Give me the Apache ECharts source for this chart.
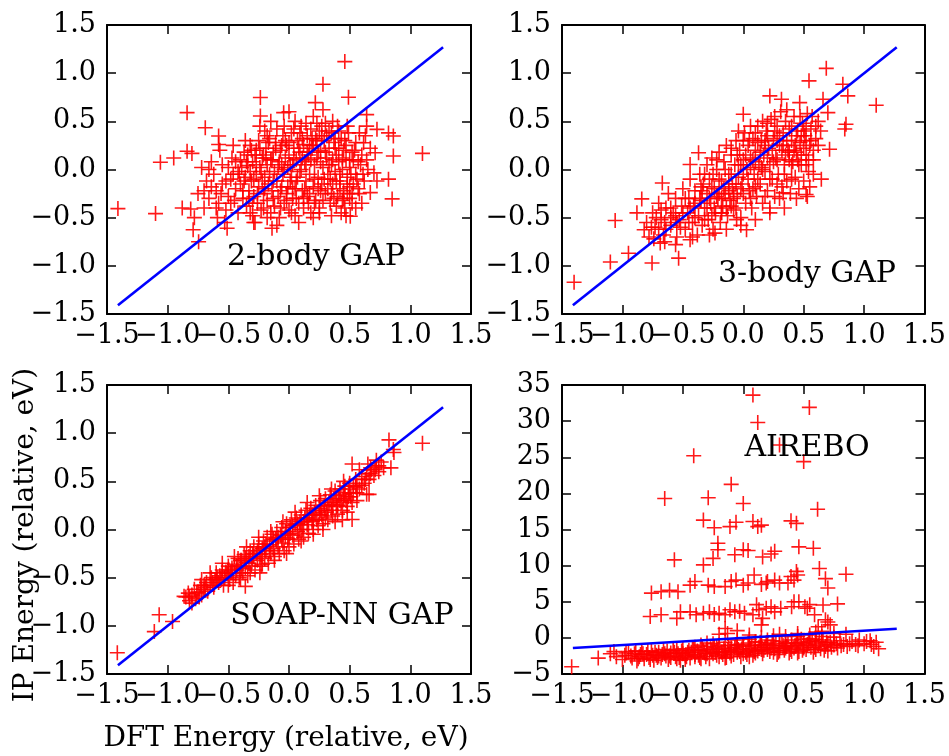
<!DOCTYPE html>
<html>
<head>
<meta charset="utf-8">
<script src="https://cdn.jsdelivr.net/npm/echarts@6/dist/echarts.min.js"></script>
<style>html,body{margin:0;padding:0;background:#fff}#c{width:949px;height:756px}</style>
</head>
<body>
<div id="c"></div>
<script>
// ---------- data (DFT energy, IP energy) ----------
var panelTitles = ['2-body GAP', '3-body GAP', 'SOAP-NN GAP', 'AIREBO'];
var xTickLabels = ['\u22121.5', '\u22121.0', '\u22120.5', '0.0', '0.5', '1.0', '1.5'];
var gapTickLabels = ['\u22121.5', '\u22121.0', '\u22120.5', '0.0', '0.5', '1.0', '1.5'];
var airTickLabels = ['\u22125', '0', '5', '10', '15', '20', '25', '30', '35'];
var fitLine = [[-1.41, -1.41], [1.27, 1.27]];

var twoBody = [
[0.46,1.12],[0.28,0.885],[0.49,0.75],[-0.236,0.747],[0.217,0.694],[-0.84,0.59],[-0.044,0.59],[-0.236,0.556],
[-0.69,0.434],[-0.58,0.347],[-0.58,0.26],[-0.84,0.19],[-0.80,0.167],[-0.95,0.12],[-1.06,0.076],[-1.41,-0.406],
[-1.10,-0.458],[-0.88,-0.40],[-0.81,-0.41],[1.10,0.167],[0.86,0.347],[0.82,0.38],[0.725,0.417],[0.64,0.45],
[0.64,0.57],[0.86,0.14],[0.82,-0.10],[0.85,-0.305],[0.70,-0.035],[0.67,-0.24],[0.505,-0.486],[0.20,-0.50],
[-0.14,-0.61],[-0.29,-0.55],[-0.51,-0.61],[-0.745,-0.75],[-0.79,-0.625],[-0.59,-0.50],[0.615,0.278],[0.71,0.174],[0.725,-0.12],
[-0.62,-0.05],[-0.60,-0.22],[-0.58,-0.35],[-0.55,0.05],[-0.55,-0.15],[-0.52,-0.42],[-0.50,-0.28],[-0.50,0.02],
[-0.48,-0.10],[-0.47,0.12],[-0.45,-0.32],[-0.44,-0.20],[-0.42,-0.02],[-0.42,-0.45],[-0.40,0.10],[-0.40,-0.15],
[-0.38,-0.30],[-0.37,0.18],[-0.36,-0.08],[-0.35,-0.38],[-0.34,0.04],[-0.33,-0.22],[-0.32,0.25],[-0.31,-0.12],
[-0.30,-0.48],[-0.30,0.08],[-0.29,-0.28],[-0.28,0.15],[-0.27,-0.05],[-0.26,-0.35],[-0.25,0.30],[-0.25,-0.18],
[-0.24,0.02],[-0.23,-0.42],[-0.22,0.12],[-0.21,-0.25],[-0.20,0.40],[-0.20,-0.08],[-0.19,0.22],[-0.18,-0.32],
[-0.18,0.05],[-0.17,-0.15],[-0.16,0.32],[-0.15,-0.45],[-0.15,0.10],[-0.14,-0.22],[-0.13,0.18],[-0.12,-0.02],
[-0.12,-0.38],[-0.11,0.28],[-0.10,-0.12],[-0.10,0.42],[-0.09,-0.28],[-0.08,0.08],[-0.08,-0.50],[-0.07,0.20],
[-0.06,-0.18],[-0.05,0.35],[-0.05,-0.05],[-0.04,-0.35],[-0.03,0.12],[-0.02,-0.25],[-0.02,0.25],[-0.01,0.02],
[0.00,-0.42],[0.00,0.15],[0.01,-0.12],[0.02,0.38],[0.03,-0.30],[0.03,0.05],[0.04,0.22],[0.05,-0.20],
[0.05,-0.48],[0.06,0.10],[0.07,0.30],[0.07,-0.08],[0.08,-0.35],[0.09,0.18],[0.10,0.00],[0.10,0.45],
[0.11,-0.22],[0.12,0.26],[0.12,-0.40],[0.13,0.08],[0.14,-0.12],[0.15,0.35],[0.15,-0.28],[0.16,0.15],
[0.17,-0.05],[0.18,0.42],[0.18,-0.45],[0.19,0.22],[0.20,-0.18],[0.21,0.05],[0.22,0.32],[0.22,-0.32],
[0.23,0.12],[0.24,-0.08],[0.25,0.40],[0.25,-0.40],[0.26,0.20],[0.27,-0.15],[0.28,0.02],[0.29,0.30],
[0.30,-0.25],[0.30,0.48],[0.31,0.12],[0.32,-0.05],[0.33,0.22],[0.34,-0.35],[0.35,0.38],[0.35,0.05],
[0.36,-0.15],[0.37,0.28],[0.38,-0.02],[0.39,0.15],[0.40,-0.28],[0.40,0.45],[0.41,0.08],[0.42,-0.12],
[0.43,0.32],[0.44,0.00],[0.45,-0.22],[0.45,0.20],[0.46,-0.40],[0.47,0.10],[0.48,-0.08],[0.49,0.38],
[0.50,-0.30],[0.50,0.02],[0.52,0.18],[0.53,-0.15],[0.55,0.28],[0.55,-0.05],[0.57,0.08],[0.58,-0.25],
[0.60,0.15],[0.62,-0.12],[0.63,0.35],[0.65,0.00],[0.67,0.22],[-0.66,-0.30],[-0.68,-0.12],[-0.70,-0.40],
[-0.72,0.02],[-0.75,-0.25],[-0.78,-0.50],[-0.64,0.08],[-0.57,0.20],[-0.53,-0.55],[-0.46,0.25],[-0.36,0.30],
[-0.28,-0.55],[-0.10,-0.58],[0.08,-0.55],[0.35,-0.48],[0.55,-0.40],[0.60,-0.35],[-0.24,0.45],[-0.15,0.50],
[0.05,0.50],[0.20,0.55],[0.28,0.62],[0.00,0.60],
[-0.32,-0.02],[-0.27,0.20],[-0.22,-0.12],[-0.17,0.28],[-0.13,-0.30],[-0.06,0.05],[-0.03,0.30],[0.02,-0.08],
[0.06,-0.30],[0.09,0.38],[0.13,-0.20],[0.17,0.25],[0.21,-0.10],[0.24,0.18],[0.28,-0.32],[0.31,0.35],
[0.34,-0.10],[0.38,0.22],[0.42,-0.20],[0.46,0.30],[0.50,-0.18],[0.53,0.10],[0.57,-0.20],[0.44,-0.32],
[0.48,-0.25],[0.52,-0.25],[0.39,-0.38],[-0.44,0.08],[-0.38,-0.22],[-0.34,0.15],[-0.30,-0.35],[-0.21,-0.40],
[-0.19,0.12],[-0.07,-0.40],[-0.01,-0.18],[0.04,0.42],[0.11,0.12],[0.16,-0.35],[0.19,0.32],[0.26,-0.22],
[0.33,0.05],[0.37,-0.30],[0.41,0.40],[0.27,0.45],[0.14,0.48],[-0.04,0.45],
[-0.41,-0.05],[-0.39,0.02],[-0.37,-0.12],[-0.35,0.08],[-0.33,-0.30],[-0.31,0.20],[-0.29,-0.10],[-0.27,0.05],
[-0.26,-0.25],[-0.24,0.22],[-0.23,-0.02],[-0.21,0.15],[-0.20,-0.20],[-0.18,0.35],[-0.16,-0.05],[-0.14,0.10],
[-0.13,-0.12],[-0.11,0.22],[-0.09,0.02],[-0.07,-0.22],[-0.06,0.25],[-0.04,0.00],[-0.02,-0.32],[0.00,0.28],
[0.01,0.05],[0.03,-0.20],[0.04,0.12],[0.06,-0.12],[0.08,0.22],[0.09,-0.02],[0.11,0.32],[0.12,-0.30],
[0.14,0.05],[0.15,0.18],[0.17,-0.25],[0.18,0.10],[0.20,0.25],[0.21,-0.35],[0.23,0.30],[0.24,-0.20],
[0.26,0.08],[0.27,0.35],[0.29,-0.10],[0.30,0.18],[0.32,-0.20],[0.33,0.40],[0.35,-0.25],[0.36,0.10],
[0.38,0.32],[0.39,-0.12],[0.41,0.22],[0.42,-0.05],[0.44,0.12],[0.45,-0.30],[0.47,0.25],[0.48,-0.15],
[0.50,0.10],[0.51,-0.05],[0.52,-0.35],[0.54,0.20],[0.56,-0.10],[0.59,0.05],[-0.48,-0.35],[-0.46,-0.05],
[-0.52,-0.12],[-0.56,-0.25],[-0.60,-0.40],[-0.64,-0.18],[-0.70,-0.22],[-0.66,0.00],[0.61,-0.05],[0.64,0.10],
[0.58,0.38],[0.48,0.45],[0.36,0.50],[0.23,0.48],[-0.32,-0.45],[-0.18,-0.50],[0.02,-0.45],[0.25,-0.45],
[0.43,-0.45],[0.47,-0.48]
];

var threeBody = [
[-1.40,-1.17],[-1.10,-0.96],[-0.95,-0.87],[-0.755,-0.97],[-0.535,-0.92],[-1.06,-0.53],[-0.84,-0.305],[0.687,1.05],
[0.544,0.92],[0.824,0.885],[0.865,0.764],[1.10,0.667],[0.22,0.764],[0.316,0.73],[0.0,0.573],[0.66,0.73],
[0.70,0.59],[0.85,0.47],[0.84,0.42],[0.714,0.21],[0.646,-0.10],[0.52,-0.26],[0.33,-0.243],[0.22,-0.40],
[0.027,-0.625],[-0.234,-0.66],[-0.44,-0.73],[-0.687,-0.764],[-0.37,0.174],[-0.44,0.052],[-0.67,-0.14],[-0.88,-0.45],
[-0.82,-0.625],[-0.055,-0.52],[-0.18,-0.45],[0.467,0.694],
[-0.80,-0.55],[-0.78,-0.70],[-0.75,-0.45],[-0.73,-0.60],[-0.70,-0.35],[-0.68,-0.52],[-0.66,-0.68],[-0.64,-0.40],
[-0.62,-0.25],[-0.60,-0.58],[-0.58,-0.45],[-0.56,-0.30],[-0.55,-0.70],[-0.53,-0.52],[-0.51,-0.38],[-0.50,-0.20],
[-0.48,-0.62],[-0.46,-0.45],[-0.45,-0.30],[-0.44,-0.10],[-0.42,-0.55],[-0.41,-0.38],[-0.40,-0.22],[-0.38,-0.68],
[-0.37,-0.48],[-0.36,-0.05],[-0.35,-0.32],[-0.34,-0.58],[-0.33,-0.15],[-0.32,-0.40],[-0.30,-0.25],[-0.30,0.05],
[-0.29,-0.52],[-0.28,-0.10],[-0.27,-0.35],[-0.26,0.12],[-0.25,-0.62],[-0.24,-0.20],[-0.23,-0.45],[-0.22,0.00],
[-0.21,-0.30],[-0.20,0.18],[-0.19,-0.55],[-0.18,-0.12],[-0.17,-0.38],[-0.16,0.08],[-0.15,-0.25],[-0.14,0.25],
[-0.13,-0.48],[-0.12,-0.05],[-0.11,-0.32],[-0.10,0.15],[-0.09,-0.18],[-0.08,-0.42],[-0.07,0.05],[-0.06,0.30],
[-0.05,-0.28],[-0.04,-0.08],[-0.03,0.20],[-0.02,-0.50],[-0.01,-0.15],[0.00,0.10],[0.01,0.38],[0.02,-0.35],
[0.03,0.00],[0.04,0.25],[0.05,-0.22],[0.06,0.12],[0.07,-0.40],[0.08,0.32],[0.09,-0.05],[0.10,0.20],
[0.11,-0.28],[0.12,0.45],[0.13,0.05],[0.14,-0.15],[0.15,0.30],[0.16,-0.35],[0.17,0.15],[0.18,-0.02],
[0.19,0.40],[0.20,-0.22],[0.21,0.22],[0.22,0.05],[0.23,0.52],[0.24,-0.10],[0.25,0.32],[0.26,-0.28],
[0.27,0.12],[0.28,0.45],[0.29,-0.05],[0.30,0.25],[0.31,0.60],[0.32,-0.18],[0.33,0.38],[0.34,0.05],
[0.35,0.50],[0.36,-0.12],[0.37,0.20],[0.38,0.42],[0.39,-0.25],[0.40,0.30],[0.41,0.08],[0.42,0.55],
[0.43,-0.08],[0.44,0.18],[0.45,0.40],[0.46,-0.20],[0.47,0.28],[0.48,0.05],[0.49,0.48],[0.50,-0.12],
[0.51,0.35],[0.52,0.15],[0.53,0.58],[0.54,-0.02],[0.55,0.25],[0.56,0.42],[0.58,0.10],[0.60,0.32],
[0.62,0.50],[0.55,-0.18],[0.50,0.22],[0.45,0.10],[0.40,-0.10],[0.35,0.15],[0.30,-0.30],[0.25,0.08],
[0.20,0.35],[0.15,0.02],[0.10,-0.18],[0.05,0.30],[0.00,-0.25],[-0.05,0.15],[-0.10,-0.38],[-0.15,0.00],
[-0.20,-0.25],[-0.25,-0.05],[-0.30,-0.40],[-0.35,-0.18],[-0.40,-0.50],[-0.45,-0.55],[-0.50,-0.45],[-0.55,-0.55],
[-0.60,-0.40],[-0.65,-0.55],[-0.72,-0.50],[-0.76,-0.60],[0.12,0.28],[0.18,0.25],[0.08,0.10],[-0.02,0.05],
[-0.08,-0.25],[-0.12,-0.15],[0.28,0.30],[0.33,0.25],[0.38,0.10],[0.43,0.25],[0.48,0.35],[0.52,0.45],
[0.57,0.55],[0.47,0.55],[0.36,0.62],[0.26,0.55],[0.16,0.50],[0.06,0.45],[-0.04,0.40],[0.58,-0.05],
[0.53,-0.28],[0.44,-0.30],[0.34,-0.40],[0.22,-0.45],[0.10,-0.52],[-0.02,-0.58],[-0.14,-0.62],[-0.28,-0.68],
[-0.42,-0.70],[-0.56,-0.78],[-0.65,-0.75],
[-0.28,-0.30],[-0.26,-0.18],[-0.24,-0.40],[-0.22,-0.28],[-0.20,-0.10],[-0.18,-0.30],[-0.16,-0.20],[-0.14,-0.40],
[-0.12,-0.22],[-0.10,-0.05],[-0.08,-0.30],[-0.06,-0.15],[-0.04,0.05],[-0.02,-0.20],[0.00,-0.05],[0.02,0.15],
[0.04,-0.10],[0.06,0.02],[0.08,-0.20],[0.10,0.08],[0.12,-0.10],[0.14,0.18],[0.16,0.00],[0.18,0.30],
[0.20,0.12],[0.22,-0.10],[0.24,0.20],[0.26,0.40],[0.28,0.10],[0.30,0.35],[0.32,0.20],[0.34,-0.05],
[0.36,0.30],[0.38,0.18],[0.40,0.45],[0.42,0.20],[0.44,0.35],[0.46,0.05],[0.48,0.15],[0.50,0.40],
[0.52,0.30],[0.54,0.10],[0.56,0.30],[0.58,0.20],[0.60,0.45],[0.62,0.25],[0.64,0.40],[-0.32,-0.52],
[-0.36,-0.30],[-0.40,-0.35],[-0.44,-0.40],[-0.48,-0.30],[-0.52,-0.60],[-0.56,-0.48],[-0.60,-0.50],[-0.64,-0.62],
[-0.68,-0.42],[-0.70,-0.62],[-0.74,-0.72],[-0.34,-0.22],[-0.26,-0.48],[-0.18,-0.45],[-0.06,-0.40],[0.06,-0.30],
[0.18,-0.28],[0.28,-0.15],[0.40,0.05],[0.52,0.05],[0.10,0.38],[0.00,0.30],[-0.10,0.22],[0.20,0.48],
[-0.22,0.10],[-0.32,-0.05]
];

var soapNN = [
[-1.415,-1.28],[-1.11,-1.06],[-1.07,-0.885],[-0.96,-0.955],[1.10,0.896],[0.824,0.93],[0.865,0.80],[0.84,0.64],
[0.673,0.64],[0.52,0.104],[0.66,0.365],[0.52,0.68],[-0.865,-0.694],[-0.80,-0.764],[0.86,0.83],[0.64,0.365],
[-0.36,-0.59],[-0.24,-0.45],
[-0.85,-0.70],[-0.83,-0.66],[-0.82,-0.74],[-0.80,-0.68],[-0.78,-0.62],[-0.77,-0.72],[-0.75,-0.65],[-0.73,-0.58],
[-0.72,-0.68],[-0.70,-0.62],[-0.68,-0.55],[-0.67,-0.64],[-0.65,-0.58],[-0.64,-0.50],[-0.62,-0.60],[-0.61,-0.52],
[-0.60,-0.45],[-0.58,-0.55],[-0.57,-0.48],[-0.55,-0.42],[-0.54,-0.58],[-0.53,-0.50],[-0.52,-0.44],[-0.50,-0.38],
[-0.49,-0.52],[-0.48,-0.45],[-0.47,-0.40],[-0.46,-0.55],[-0.45,-0.36],[-0.44,-0.48],[-0.43,-0.42],[-0.42,-0.30],
[-0.41,-0.50],[-0.40,-0.38],[-0.39,-0.32],[-0.38,-0.45],[-0.37,-0.26],[-0.36,-0.40],[-0.35,-0.34],[-0.34,-0.48],
[-0.33,-0.28],[-0.32,-0.22],[-0.31,-0.38],[-0.30,-0.30],[-0.29,-0.18],[-0.28,-0.42],[-0.27,-0.25],[-0.26,-0.32],
[-0.25,-0.15],[-0.24,-0.28],[-0.23,-0.38],[-0.22,-0.20],[-0.21,-0.12],[-0.20,-0.30],[-0.19,-0.22],[-0.18,-0.08],
[-0.17,-0.35],[-0.16,-0.16],[-0.15,-0.25],[-0.14,-0.05],[-0.13,-0.20],[-0.12,-0.28],[-0.11,-0.10],[-0.10,-0.02],
[-0.09,-0.18],[-0.08,-0.25],[-0.07,-0.06],[-0.06,0.02],[-0.05,-0.14],[-0.04,-0.22],[-0.03,-0.02],[-0.02,0.06],
[-0.01,-0.10],[0.00,-0.18],[0.01,0.02],[0.02,0.10],[0.03,-0.06],[0.04,-0.15],[0.05,0.05],[0.06,0.12],
[0.07,-0.02],[0.08,-0.10],[0.09,0.08],[0.10,0.15],[0.11,0.00],[0.12,-0.08],[0.13,0.12],[0.14,0.20],
[0.15,0.05],[0.16,-0.04],[0.17,0.15],[0.18,0.22],[0.19,0.08],[0.20,0.00],[0.21,0.18],[0.22,0.25],
[0.23,0.10],[0.24,0.04],[0.25,0.22],[0.26,0.30],[0.27,0.15],[0.28,0.06],[0.29,0.25],[0.30,0.32],
[0.31,0.18],[0.32,0.10],[0.33,0.28],[0.34,0.36],[0.35,0.20],[0.36,0.14],[0.37,0.32],[0.38,0.40],
[0.39,0.24],[0.40,0.16],[0.41,0.35],[0.42,0.42],[0.43,0.28],[0.44,0.20],[0.45,0.38],[0.46,0.45],
[0.47,0.30],[0.48,0.24],[0.49,0.42],[0.50,0.48],[0.51,0.34],[0.52,0.28],[0.53,0.45],[0.55,0.52],
[0.56,0.38],[0.58,0.42],[0.60,0.55],[0.62,0.48],[0.64,0.58],[0.66,0.52],[0.68,0.62],[0.70,0.56],
[0.72,0.66],[0.74,0.60],[0.76,0.70],[0.78,0.64],[0.72,0.72],[0.65,0.68],[0.58,0.62],[0.45,0.50],
[0.35,0.42],[0.25,0.35],[0.15,0.28],[0.05,0.18],[-0.05,0.08],[-0.15,-0.02],[-0.25,-0.08],[-0.35,-0.18],
[-0.45,-0.28],[-0.55,-0.35],[-0.65,-0.45],[-0.72,-0.52],[0.40,0.25],[0.30,0.12],[0.20,0.10],[0.10,0.05],
[0.00,-0.05],[-0.10,-0.12],[-0.20,-0.18],[-0.30,-0.25],[-0.40,-0.32],[-0.50,-0.42],[-0.60,-0.52],[-0.70,-0.58],
[0.15,0.12],[0.25,0.15],[0.35,0.28],[0.45,0.32],[0.50,0.38],[0.55,0.44],
[-0.82,-0.70],[-0.76,-0.66],[-0.74,-0.70],[-0.69,-0.60],[-0.63,-0.55],[-0.59,-0.50],[-0.56,-0.52],[-0.51,-0.46],
[-0.47,-0.45],[-0.43,-0.38],[-0.39,-0.40],[-0.36,-0.30],[-0.33,-0.35],[-0.29,-0.28],[-0.26,-0.22],[-0.23,-0.26],
[-0.19,-0.15],[-0.16,-0.22],[-0.13,-0.10],[-0.09,-0.08],[-0.06,-0.10],[-0.03,-0.08],[0.01,-0.04],[0.03,0.04],
[0.07,0.06],[0.09,0.00],[0.12,0.08],[0.16,0.10],[0.19,0.15],[0.22,0.16],[0.26,0.20],[0.29,0.20],
[0.32,0.24],[0.36,0.26],[0.39,0.32],[0.42,0.30],[0.46,0.36],[0.49,0.34],[0.53,0.38],[0.56,0.46],
[0.60,0.46],[0.63,0.52],[0.67,0.58],[0.71,0.62],[0.74,0.66],[0.28,0.00],[0.38,0.08],[0.48,0.18],
[0.20,-0.05],[0.10,-0.12],[-0.02,-0.25],[-0.12,-0.32],[-0.22,-0.36],[-0.32,-0.45],[-0.40,-0.52],[-0.50,-0.58],
[0.56,0.30],[0.44,0.10]
];

var airebo = [
[0.08,33.6],[0.547,31.9],[0.12,29.8],[0.30,26.7],[0.50,24.4],[-0.41,25.2],[-0.10,21.25],[-0.65,19.3],
[-0.29,19.4],[0.0,18.6],[0.615,17.8],[-0.33,16.3],[-0.24,15.25],[-0.11,15.4],[-0.06,16.0],[0.08,16.1],
[0.12,15.4],[0.15,15.6],[0.395,16.2],[0.44,15.85],[-0.21,13.1],[-0.57,10.8],[-0.33,10.1],[-0.25,11.0],
[-0.21,12.2],[-0.07,11.5],[0.0,12.2],[0.04,12.1],[0.16,11.2],[0.23,11.6],[0.26,12.0],[0.46,12.6],
[0.58,12.4],[0.85,8.8],[0.63,9.6],[0.68,8.2],[0.70,6.9],[0.66,4.55],[0.78,4.7],[0.44,9.2],
[0.395,8.5],[-0.76,6.2],[-0.68,6.4],[-0.61,6.6],[-0.54,6.4],[-0.44,7.3],[-0.40,7.8],[-0.29,7.3],
[-0.24,7.1],[-0.15,7.1],[-0.10,7.8],[-0.06,8.0],[0.0,7.3],[0.04,7.6],[0.09,8.7],[0.15,7.4],
[0.20,7.8],[0.26,8.0],[0.30,7.6],[0.37,7.6],[0.42,8.0],[0.45,8.7],[0.19,7.6],[-0.77,2.95],
[-0.68,3.2],[-0.55,2.7],[-0.52,3.6],[-0.44,3.6],[-0.39,3.2],[-0.33,3.4],[-0.28,3.6],[-0.24,3.25],
[-0.20,3.4],[-0.15,3.2],[-0.11,3.9],[-0.07,3.6],[-0.03,3.7],[0.01,3.4],[0.08,3.2],[0.11,4.6],
[0.13,3.9],[0.16,2.7],[0.19,4.1],[0.23,4.3],[0.26,3.6],[0.31,4.1],[0.40,4.3],[0.42,5.0],
[0.46,5.0],[0.51,4.3],[0.53,4.1],[0.55,4.6],[0.59,3.2],[0.62,1.55],[0.70,2.2],[-0.15,1.3],
[-0.13,0.6],[0.15,1.8],[-1.42,-4.0],[-1.20,-2.8],[-1.07,-1.9],
[-1.10,-2.2],[-1.05,-2.6],[-1.00,-3.0],[-0.98,-2.4],[-0.95,-1.9],[-0.92,-2.8],[-0.90,-2.2],[-0.88,-3.2],
[-0.86,-2.6],[-0.84,-1.9],[-0.82,-2.9],[-0.80,-2.3],[-0.78,-2.7],[-0.76,-1.8],[-0.74,-3.1],[-0.72,-2.4],
[-0.70,-2.0],[-0.68,-2.8],[-0.66,-1.6],[-0.64,-2.5],[-0.62,-3.0],[-0.60,-2.1],[-0.58,-1.7],[-0.56,-2.6],
[-0.54,-2.2],[-0.52,-3.1],[-0.50,-1.5],[-0.48,-2.4],[-0.46,-2.0],[-0.44,-2.8],[-0.42,-1.4],[-0.40,-2.3],
[-0.38,-1.8],[-0.36,-2.7],[-0.34,-1.2],[-0.32,-2.1],[-0.30,-1.6],[-0.28,-2.9],[-0.26,-1.9],[-0.24,-1.3],
[-0.22,-2.4],[-0.20,-1.0],[-0.18,-2.0],[-0.16,-1.5],[-0.14,-2.7],[-0.12,-1.1],[-0.10,-1.8],[-0.08,-2.3],
[-0.06,-0.9],[-0.04,-1.6],[-0.02,-2.6],[0.00,-1.2],[0.02,-2.0],[0.04,-0.7],[0.06,-1.5],[0.08,-2.4],
[0.10,-1.0],[0.12,-1.8],[0.14,-0.6],[0.16,-2.2],[0.18,-1.3],[0.20,-0.9],[0.22,-1.9],[0.24,-0.4],
[0.26,-1.5],[0.28,-2.3],[0.30,-1.0],[0.32,-0.5],[0.34,-1.7],[0.36,-1.2],[0.38,-2.1],[0.40,-0.3],
[0.42,-1.4],[0.44,-0.8],[0.46,-1.9],[0.48,-0.2],[0.50,-1.1],[0.52,-1.6],[0.54,-0.5],[0.56,-1.3],
[0.58,-2.0],[0.60,-0.7],[0.62,-1.0],[0.64,-1.5],[0.66,-0.3],[0.68,-1.2],[0.70,-1.8],[0.72,-0.6],
[0.75,-1.0],[0.78,-1.4],[0.80,-0.4],[0.83,-0.9],[0.86,-1.2],[0.90,-0.5],[0.93,-0.9],[0.96,-0.3],
[1.00,-0.8],[1.05,-0.4],[1.08,-1.2],[1.10,-0.6],[1.12,-1.5],[-0.70,-2.5],[-0.60,-2.7],[-0.50,-2.2],
[-0.40,-2.6],[-0.30,-2.2],[-0.20,-2.6],[-0.10,-2.5],[0.00,-2.2],[0.10,-2.1],[0.20,-1.6],[0.30,-1.8],
[0.40,-1.9],[0.50,-1.4],[0.60,-1.6],[-0.35,-1.0],[-0.25,-0.8],[-0.15,-0.6],[-0.05,-0.3],[0.05,-0.2],
[0.15,0.1],[0.25,0.3],[0.35,0.2],[0.45,0.6],[0.55,0.4],[0.65,0.9],[0.75,0.6],[0.85,0.5],
[0.45,-1.0],[0.35,-0.7],[0.25,-1.1],[0.15,-1.6],[0.05,-1.7],[-0.05,-2.0],[-0.15,-1.9],[-0.25,-2.2],
[-0.45,-1.7],[-0.55,-2.9],[-0.65,-2.2],[-0.75,-2.4],[-0.85,-2.3],[-0.10,-1.4],[0.00,-0.9],[0.10,-0.5],
[0.20,-0.3],[0.30,-1.4],[0.40,-1.1],[0.50,-0.7],[0.60,-0.2],[0.70,-0.9],[-0.05,1.0],[0.60,0.8],
[0.68,2.5],[0.72,1.8],
[-0.97,-2.1],[-0.93,-2.5],[-0.89,-1.8],[-0.87,-2.9],[-0.83,-2.2],[-0.79,-1.9],[-0.77,-3.0],[-0.73,-2.0],
[-0.71,-2.7],[-0.67,-2.3],[-0.63,-1.8],[-0.61,-2.5],[-0.57,-2.0],[-0.53,-2.7],[-0.51,-1.8],[-0.47,-2.6],
[-0.43,-2.0],[-0.41,-1.6],[-0.37,-2.4],[-0.33,-1.7],[-0.31,-2.6],[-0.27,-1.5],[-0.23,-2.0],[-0.21,-1.6],
[-0.17,-2.3],[-0.13,-1.6],[-0.11,-2.1],[-0.07,-1.3],[-0.03,-1.9],[-0.01,-1.5],[0.03,-2.3],[0.07,-1.1],
[0.09,-1.9],[0.13,-1.3],[0.17,-1.7],[0.19,-0.7],[0.23,-1.4],[0.27,-0.8],[0.29,-2.0],[0.33,-1.1],
[0.37,-0.7],[0.39,-1.6],[0.43,-1.1],[0.47,-0.6],[0.49,-1.7],[0.53,-0.9],[0.57,-0.4],[0.59,-1.3],
[0.63,-0.5],[0.67,-1.7],[0.69,-0.6],[0.73,-1.3],[0.77,-0.8],[0.81,-1.1],[0.88,-0.8],[0.95,-1.1],
[1.02,-0.5],[1.06,-0.9],[0.45,-2.1],[0.25,-2.0],[0.05,-2.6],[-0.15,-2.8],[-0.35,-2.9],[-0.48,-3.0],
[0.35,-1.4],[0.15,-1.0],[-0.05,-1.0],[-0.22,-1.2],[-0.40,-1.3],[-0.55,-1.6],[0.55,-0.1],[0.65,0.2],
[0.75,0.1],[0.45,0.2],[0.30,0.5],[-0.30,-0.7],[0.05,0.4],[-0.20,0.5]
];

// ---------- chart ----------
var FONT = '"DejaVu Serif", serif';
var plusPath = 'path://M-0.8,-7.5L0.8,-7.5L0.8,-0.8L7.5,-0.8L7.5,0.8L0.8,0.8L0.8,7.5L-0.8,7.5L-0.8,0.8L-7.5,0.8L-7.5,-0.8L-0.8,-0.8Z';
var grids = [
  {left: 107, top: 25, width: 364, height: 289},
  {left: 562, top: 25, width: 364, height: 289},
  {left: 107, top: 385, width: 364, height: 289},
  {left: 562, top: 385, width: 364, height: 289}
];
// parity: 0 -> labels at even tick indices, 1 -> odd indices (split over two axes so neighbouring labels may overlap like the original)
function lookup(labels, min, step, parity) {
  return function (v) {
    var i = Math.round((v - min) / step);
    if (parity !== undefined && i % 2 !== parity) return '';
    return labels[i] !== undefined ? labels[i] : '';
  };
}
var xAxes = [], yAxes = [], series = [];
var panelData = [twoBody, threeBody, soapNN, airebo];
for (var g = 0; g < 4; g++) {
  var isAir = g === 3;
  var axLine = {show: true, onZero: false, lineStyle: {color: '#000', width: 2}};
  var tick = {show: true, inside: true, length: 9, lineStyle: {color: '#000', width: 1.5}};
  var xLab = {show: true, margin: 8, color: '#000', fontFamily: FONT, fontSize: 27, showMinLabel: true, showMaxLabel: true, hideOverlap: false};
  xAxes.push({type: 'value', gridIndex: g, position: 'bottom', min: -1.5, max: 1.5, interval: 0.5,
    axisLine: axLine, axisTick: tick, splitLine: {show: false},
    axisLabel: Object.assign({}, xLab, {formatter: lookup(xTickLabels, -1.5, 0.5, 0)})});
  xAxes.push({type: 'value', gridIndex: g, position: 'bottom', min: -1.5, max: 1.5, interval: 0.5,
    axisLine: {show: false, onZero: false}, axisTick: {show: false}, splitLine: {show: false},
    axisLabel: Object.assign({}, xLab, {formatter: lookup(xTickLabels, -1.5, 0.5, 1)})});
  xAxes.push({type: 'value', gridIndex: g, position: 'top', min: -1.5, max: 1.5, interval: 0.5,
    axisLine: axLine, axisTick: tick, splitLine: {show: false}, axisLabel: {show: false}});
  var ymin = isAir ? -5 : -1.5, ymax = isAir ? 35 : 1.5, yint = isAir ? 5 : 0.5;
  var ylabels = isAir ? airTickLabels : gapTickLabels;
  yAxes.push({type: 'value', gridIndex: g, position: 'left', min: ymin, max: ymax, interval: yint,
    axisLine: axLine, axisTick: tick, splitLine: {show: false},
    axisLabel: {show: true, margin: 11, color: '#000', fontFamily: FONT, fontSize: 27, showMinLabel: true, showMaxLabel: true,
      formatter: lookup(ylabels, ymin, yint), hideOverlap: false}});
  yAxes.push({type: 'value', gridIndex: g, position: 'right', min: ymin, max: ymax, interval: yint,
    axisLine: axLine, axisTick: tick, splitLine: {show: false}, axisLabel: {show: false}});
  series.push({type: 'scatter', xAxisIndex: 3 * g, yAxisIndex: 2 * g, data: panelData[g],
    symbol: plusPath, symbolSize: 15, itemStyle: {color: '#ff0000', opacity: 0.9}, silent: true, z: 2});
  series.push({type: 'line', xAxisIndex: 3 * g, yAxisIndex: 2 * g, data: fitLine, symbol: 'none',
    lineStyle: {color: '#0000ff', width: 2.6}, silent: true, z: 3});
}
function txt(x, y, s, size, rot) {
  return {type: 'text', x: x, y: y, rotation: rot || 0, z: 10,
    style: {text: s, fill: '#000', font: size + 'px ' + FONT, textAlign: 'center', textVerticalAlign: 'middle', align: 'center', verticalAlign: 'middle'}};
}
var chart = echarts.init(document.getElementById('c'), null, {renderer: 'canvas'});
chart.setOption({
  animation: false,
  backgroundColor: '#fff',
  grid: grids,
  xAxis: xAxes,
  yAxis: yAxes,
  series: series,
  graphic: [
    txt(316, 257, panelTitles[0], 30),
    txt(807, 274, panelTitles[1], 30),
    txt(342, 616, panelTitles[2], 30),
    txt(807, 448, panelTitles[3], 30),
    txt(286, 739, 'DFT Energy (relative, eV)', 28),
    txt(26, 535, 'IP Energy (relative, eV)', 28, Math.PI / 2)
  ]
});
</script>
</body>
</html>
